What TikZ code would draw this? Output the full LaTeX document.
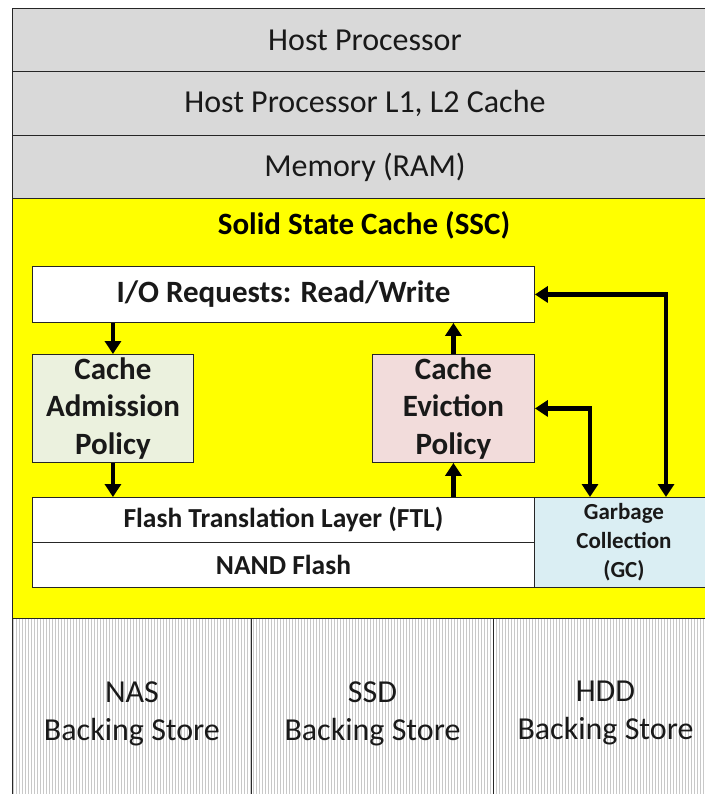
\documentclass[tikz,border=0pt]{standalone}
\usepackage{fontspec}
\setmainfont{Carlito}
\usetikzlibrary{arrows.meta,calc}
\definecolor{hostgray}{HTML}{D9D9D9}
\definecolor{sscyellow}{HTML}{FFFF00}
\definecolor{admgreen}{HTML}{EBF1DE}
\definecolor{evipink}{HTML}{F2DCDB}
\definecolor{gcblue}{HTML}{DAEEF3}
\definecolor{hatch}{HTML}{C8C8C8}
\tikzset{
  box/.style={draw=black!85, line width=0.9pt, inner sep=0pt, anchor=north west, align=center, text=black!90},
  big/.style={font=\fontsize{32}{38}\selectfont},
  bigb/.style={font=\fontsize{31}{37.5}\selectfont\bfseries},
  arr/.style={line width=4.5pt, -{Triangle[width=16pt,length=13pt]}},
  darr/.style={line width=4.5pt, {Triangle[width=16pt,length=13pt]}-{Triangle[width=16pt,length=13pt]}}
}
\begin{document}
\begin{tikzpicture}[x=1pt,y=-1pt]
\useasboundingbox (0,0) rectangle (704,794);
\fill[white] (0,0) rectangle (704,794);
% top stack
\node[box, big, fill=hostgray, minimum width=705pt, minimum height=63pt] (host) at (12,8) {Host Processor};
\node[box, big, fill=hostgray, minimum width=705pt, minimum height=64pt] (cache) at (12,71) {Host Processor L1, L2 Cache};
\node[box, big, fill=hostgray, minimum width=705pt, minimum height=63pt] (ram) at (12,135) {Memory (RAM)};
% SSC
\node[box, fill=sscyellow, minimum width=705pt, minimum height=420pt] (ssc) at (12,198) {};
\node[font=\fontsize{31}{32}\selectfont\bfseries, text=black] (ssctitle) at (364,225) {Solid State Cache (SSC)};
\node[box, fill=white, font=\fontsize{31}{32}\selectfont\bfseries, minimum width=502pt, minimum height=56pt] (io) at (32,266) {I/O Requests: Read/Write};
\node[box, bigb, fill=admgreen, minimum width=161pt, minimum height=108pt] (adm) at (32,354) {Cache\\Admission\\Policy};
\node[box, bigb, fill=evipink, minimum width=162pt, minimum height=108pt] (evi) at (372,354) {Cache\\Eviction\\Policy};
\node[box, fill=white, font=\fontsize{27.5}{28}\selectfont\bfseries, minimum width=502pt, minimum height=45pt] (ftl) at (32,497) {Flash Translation Layer (FTL)};
\node[box, fill=white, font=\fontsize{27.5}{28}\selectfont\bfseries, minimum width=502pt, minimum height=45pt] (nand) at (32,542) {NAND Flash};
\node[box, fill=gcblue, font=\fontsize{23}{29}\selectfont\bfseries, minimum width=179pt, minimum height=90pt] (gc) at (534,497) {Garbage\\Collection\\(GC)};
% arrows
\draw[arr] (io.south -| adm.north) -- (adm.north);
\draw[arr] (adm.south) -- (adm.south |- ftl.north);
\draw[arr] (evi.north) -- (evi.north |- io.south);
\draw[arr] (ftl.north -| evi.south) -- (evi.south);
\draw[darr] (io.east) -| ([xshift=132pt]gc.north west);
\draw[darr] (evi.east) -| ([xshift=56pt]gc.north west);
% backing stores
\begin{scope}
\clip (12,618) rectangle (704,794);
\fill[white] (12,618) rectangle (704,794);
\foreach \x in {13.5,16.5,...,704} \draw[hatch, line width=0.7pt] (\x,618) -- (\x,794);
\end{scope}
\node[box, big, minimum width=239pt, minimum height=190pt] (nas) at (12,618) {NAS\\Backing Store};
\node[box, big, minimum width=242pt, minimum height=190pt] (ssd) at (251,618) {SSD\\Backing Store};
\node[box, big, minimum width=224pt, minimum height=190pt] (hdd) at (493,618) {HDD\\Backing Store};
\end{tikzpicture}
\end{document}
